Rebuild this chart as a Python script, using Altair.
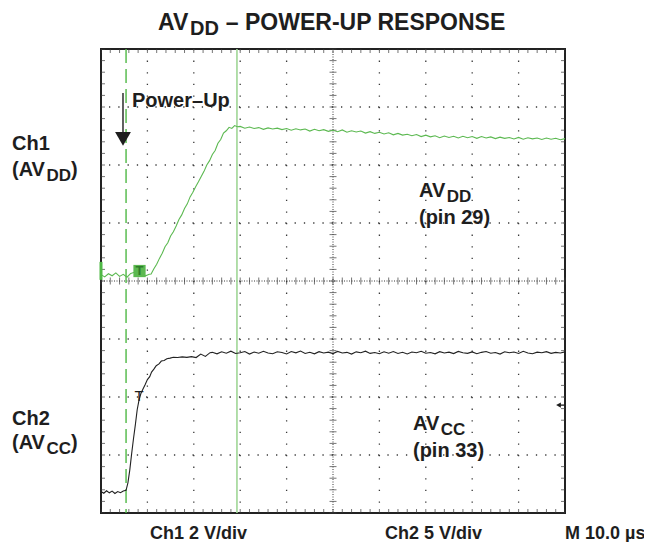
import altair as alt
import pandas as pd
import numpy as np

# ---------------- data ----------------
# time in microseconds (10 us/div, 10 divisions), volts per channel
ch1_t = [0.0, 0.8, 1.6, 2.4, 3.2, 4.0, 4.8, 5.6, 6.4, 7.2, 8.0, 8.8, 9.6, 10.4,
         10.8, 11.4, 12.0, 12.6, 13.2, 13.8, 14.4, 15.0, 15.6, 16.2, 16.8, 17.4,
         18.0, 18.6, 19.2, 19.8, 20.4, 21.0, 21.6, 22.2, 22.8, 23.4, 24.0, 24.6,
         25.2, 25.8, 26.4, 27.0, 27.6, 28.2, 28.8, 29.4,
         30, 31, 32, 33, 34, 35, 36, 37, 38, 39, 40, 41, 42, 43, 44, 45, 46, 47,
         48, 49, 50, 51, 52, 53, 54, 55, 56, 57, 58, 59, 60, 61, 62, 63, 64, 65,
         66, 67, 68, 69, 70, 71, 72, 73, 74, 75, 76, 77, 78, 79, 80, 81, 82, 83,
         84, 85, 86, 87, 88, 89, 90, 91, 92, 93, 94, 95, 96, 97, 98, 99, 100]
ch1_v = [0.02, -0.06, 0.05, -0.02, 0.08, -0.04, 0.03, -0.07, 0.06, 0.10, -0.03, 0.05, -0.02, 0.03,
         0.04, 0.22, 0.38, 0.58, 0.76, 0.98, 1.12, 1.35, 1.50, 1.70, 1.92, 2.08,
         2.30, 2.46, 2.70, 2.86, 3.05, 3.22, 3.40, 3.58, 3.80, 3.95, 4.16, 4.30,
         4.55, 4.68, 4.90, 4.98, 5.10, 5.06, 5.16, 5.12,
         5.13, 5.07, 5.11, 5.06, 5.09, 5.03, 5.08, 5.04, 5.07, 5.02, 5.06, 5.00, 5.05, 5.01, 5.04, 4.97, 5.03, 4.98,
         5.02, 4.96, 5.00, 4.95, 5.01, 4.93, 4.98, 4.94, 4.97, 4.90, 4.95, 4.89, 4.93, 4.87, 4.91, 4.84, 4.89, 4.83,
         4.86, 4.81, 4.85, 4.78, 4.83, 4.77, 4.81, 4.74, 4.80, 4.75, 4.79, 4.73, 4.79, 4.74, 4.78, 4.72, 4.78, 4.73,
         4.77, 4.71, 4.76, 4.72, 4.75, 4.70, 4.75, 4.69, 4.74, 4.70, 4.73, 4.68, 4.73, 4.69, 4.72, 4.67, 4.71]

ch2_t = [0.0, 0.6, 1.2, 1.8, 2.4, 3.0, 3.6, 4.2, 4.8, 5.4, 5.8, 6.2, 6.6, 7.0, 7.4, 7.8,
         8.2, 8.6, 9.0, 9.5, 10.0, 10.5, 10.9, 11.4, 11.9, 12.5, 13.0, 13.6, 14.2, 14.9,
         15.6, 16.5, 17.5, 18.5, 19.5, 20.5, 21.5, 22.5, 23.5,
         24, 25, 26, 27, 28, 29, 30, 31, 32, 33, 34, 35, 36, 37, 38, 39, 40, 41, 42,
         43, 44, 45, 46, 47, 48, 49, 50, 51, 52, 53, 54, 55, 56, 57, 58, 59, 60, 61,
         62, 63, 64, 65, 66, 67, 68, 69, 70, 71, 72, 73, 74, 75, 76, 77, 78, 79, 80,
         81, 82, 83, 84, 85, 86, 87, 88, 89, 90, 91, 92, 93, 94, 95, 96, 97, 98, 99, 100]
ch2_v = [0.05, -0.10, 0.12, -0.06, 0.09, -0.12, 0.05, -0.05, 0.10, 0.15, 0.80, 1.90, 3.30, 4.60, 5.80, 7.10,
         7.95, 8.50, 8.85, 9.25, 9.70, 9.95, 10.35, 10.60, 10.90, 11.05, 11.30, 11.35, 11.50, 11.55,
         11.62, 11.60, 11.66, 11.62, 11.68, 11.60, 11.90, 11.70, 12.02,
         12.05, 11.92, 12.10, 11.98, 12.15, 11.95, 12.02, 12.12, 11.90, 12.08, 11.97, 12.14, 12.00, 11.93, 12.10, 12.03, 11.91, 12.12, 12.01,
         12.16, 11.95, 12.06, 11.92, 12.11, 12.00, 12.07, 11.94, 12.13, 11.99, 12.05, 11.90, 12.09, 12.02, 12.15, 11.96, 12.04, 11.93, 12.10,
         11.98, 12.12, 11.95, 12.06, 11.91, 12.08, 12.01, 12.14, 11.97, 12.03, 11.92, 12.11, 12.00, 12.07, 11.94, 12.13, 12.02, 11.96, 12.09,
         11.93, 12.05, 12.12, 11.97, 12.04, 11.90, 12.10, 12.01, 12.08, 11.95, 12.14, 12.00, 11.93, 12.07, 12.02, 12.11, 11.96, 12.05, 11.99, 12.09]

CH1_VOLTS_PER_DIV = 2.0
CH2_VOLTS_PER_DIV = 5.0
CH1_ZERO_DIV = 0.10      # ground reference position of Ch1 (divisions from centre)
CH2_ZERO_DIV = -3.64     # ground reference position of Ch2

POWER_UP_T = 5.4         # dashed marker (us)
CURSOR_T = 29.3          # solid cursor (us)

# text annotations: (label, time-position, division-position, font size)
labels = ["AV", "DD", "\u2013 POWER-UP RESPONSE",
          "Ch1", "(AV", "DD", ")",
          "Ch2", "(AV", "CC", ")",
          "Power\u2013Up",
          "AV", "DD", "(pin 29)",
          "AV", "CC", "(pin 33)",
          "Ch1 2 V/div", "Ch2 5 V/div", "M 10.0 \u00b5s"]
label_t = [12.28, 19.2, 26.9,
           -19.18, -19.18, -11.77, -6.44,
           -19.18, -19.18, -11.77, -6.44,
           6.68,
           68.53, 74.53, 68.53,
           67.24, 73.23, 67.24,
           10.56, 61.2, 100.0]
label_d = [4.33, 4.24, 4.33,
           2.26, 1.81, 1.72, 1.81,
           -2.48, -2.90, -2.98, -2.90,
           3.0,
           1.448, 1.37, 0.99,
           -2.569, -2.647, -3.03,
           -4.44, -4.44, -4.44]
label_fs = [23, 20, 23,
            20, 20, 17, 20,
            20, 20, 17, 20,
            20,
            20, 17, 20,
            20, 17, 20,
            18, 18, 18]

# ---------------- tables ----------------
df1 = pd.DataFrame({"t": ch1_t, "d": np.array(ch1_v) / CH1_VOLTS_PER_DIV + CH1_ZERO_DIV})
df2 = pd.DataFrame({"t": ch2_t, "d": np.array(ch2_v) / CH2_VOLTS_PER_DIV + CH2_ZERO_DIV})
txt = pd.DataFrame({"label": labels, "t": label_t, "d": label_d, "fs": label_fs})

xs = alt.Scale(domain=[0, 100], nice=False, zero=False)
ys = alt.Scale(domain=[-4, 4], nice=False, zero=False)
X = lambda f="t": alt.X(f"{f}:Q", scale=xs, axis=None)
Y = lambda f="d": alt.Y(f"{f}:Q", scale=ys, axis=None)

FONT = "Liberation Sans"
INK = "#1e1e1e"
GRID = "#3a3a3a"

# graticule
vlines = pd.DataFrame({"t": [10, 20, 30, 40, 60, 70, 80, 90]})
hlines = pd.DataFrame({"d": [-3, -2, -1, 1, 2, 3]})
minor_t = np.round(np.arange(0, 100.001, 2.0), 3)
minor_d = np.round(np.arange(-4, 4.001, 0.2), 3)

vgrid = alt.Chart(vlines).mark_rule(color=GRID, strokeWidth=1.3, strokeDash=[1.3, 10.3]).encode(x=X())
hgrid = alt.Chart(hlines).mark_rule(color=GRID, strokeWidth=1.3, strokeDash=[1.3, 7.98]).encode(y=Y())
cx = alt.Chart(pd.DataFrame({"t": [50]})).mark_rule(color=GRID, strokeWidth=1, strokeDash=[1, 1.5]).encode(x=X())
cy = alt.Chart(pd.DataFrame({"d": [0]})).mark_rule(color=GRID, strokeWidth=1, strokeDash=[1, 1.5]).encode(y=Y())

ticks_h_center = alt.Chart(pd.DataFrame({"t": minor_t, "d": 0.0})).mark_tick(
    orient="vertical", size=7, thickness=1, color=GRID).encode(x=X(), y=Y())
ticks_v_center = alt.Chart(pd.DataFrame({"t": 50.0, "d": minor_d})).mark_tick(
    orient="horizontal", size=7, thickness=1, color=GRID).encode(x=X(), y=Y())
edge_tb = pd.DataFrame({"t": np.concatenate([minor_t, minor_t]),
                        "d": np.concatenate([np.full(len(minor_t), 4.0), np.full(len(minor_t), -4.0)])})
edge_lr = pd.DataFrame({"t": np.concatenate([np.full(len(minor_d), 0.0), np.full(len(minor_d), 100.0)]),
                        "d": np.concatenate([minor_d, minor_d])})
ticks_tb = alt.Chart(edge_tb).mark_tick(orient="vertical", size=8, thickness=1, color=GRID, clip=True).encode(x=X(), y=Y())
ticks_lr = alt.Chart(edge_lr).mark_tick(orient="horizontal", size=8, thickness=1, color=GRID, clip=True).encode(x=X(), y=Y())

# markers
dash_line = alt.Chart(pd.DataFrame({"t": [POWER_UP_T]})).mark_rule(
    color="#4fb845", strokeWidth=1.4, strokeDash=[14, 6]).encode(x=X())
cursor = alt.Chart(pd.DataFrame({"t": [CURSOR_T]})).mark_rule(
    color="#9fd696", strokeWidth=1.6).encode(x=X())

trace1 = alt.Chart(df1).mark_line(color="#5cb951", strokeWidth=1.1).encode(x=X(), y=Y(), order="t:Q")
trace2 = alt.Chart(df2).mark_line(color="#222222", strokeWidth=1.1).encode(x=X(), y=Y(), order="t:Q")

ground1 = alt.Chart(pd.DataFrame({"t": [0.0], "d": [CH1_ZERO_DIV + 0.23], "d2": [CH1_ZERO_DIV - 0.08]})).mark_rule(
    color="#4fb845", strokeWidth=3).encode(x=X(), y=Y(), y2="d2:Q")

trig_box = alt.Chart(pd.DataFrame({"t": [8.3], "d": [0.172]})).mark_square(
    size=150, color="#5cb951", opacity=1, filled=True).encode(x=X(), y=Y())
trig_T = alt.Chart(pd.DataFrame({"t": [8.3], "d": [0.172], "label": ["T"]})).mark_text(
    font=FONT, fontWeight="bold", fontSize=13, color="#2f7d2a", align="center", baseline="middle").encode(
    x=X(), y=Y(), text="label:N")
trig2_T = alt.Chart(pd.DataFrame({"t": [8.2], "d": [-1.98], "label": ["T"]})).mark_text(
    font=FONT, fontSize=15, color=INK, align="center", baseline="middle").encode(x=X(), y=Y(), text="label:N")

arrow_shaft = alt.Chart(pd.DataFrame({"t": [4.74], "d": [3.24], "d2": [2.55]})).mark_rule(
    color=INK, strokeWidth=1.4).encode(x=X(), y=Y(), y2="d2:Q")
arrow_head = alt.Chart(pd.DataFrame({"t": [4.74], "d": [2.45]})).mark_point(
    shape="triangle-down", size=250, filled=True, color=INK, opacity=1).encode(x=X(), y=Y())

lvl_head = alt.Chart(pd.DataFrame({"t": [98.6], "d": [-2.14]})).mark_point(
    shape="triangle-left", size=30, filled=True, color=INK, opacity=1).encode(x=X(), y=Y())
lvl_shaft = alt.Chart(pd.DataFrame({"t": [98.6], "t2": [100.0], "d": [-2.14]})).mark_rule(
    color=INK, strokeWidth=1.3).encode(x=X(), x2="t2:Q", y=Y())

texts = alt.Chart(txt).mark_text(font=FONT, fontWeight="bold", color=INK, align="left",
                                 baseline="alphabetic").encode(
    x=X(), y=Y(), text="label:N", size=alt.Size("fs:Q", scale=None, legend=None))

chart = alt.layer(
    vgrid, hgrid, cx, cy, ticks_h_center, ticks_v_center, ticks_tb, ticks_lr,
    dash_line, cursor, trace1, trace2, ground1, trig_box, trig_T, trig2_T,
    arrow_shaft, arrow_head, lvl_head, lvl_shaft, texts
).properties(
    width=464, height=464,
    autosize=alt.AutoSizeParams(type="none"),
    padding={"left": 93, "top": 41, "right": 79, "bottom": 29},
).configure_view(stroke="#222222", strokeWidth=2)

chart.save("out.html", embed_options={"renderer": "svg", "actions": False})
